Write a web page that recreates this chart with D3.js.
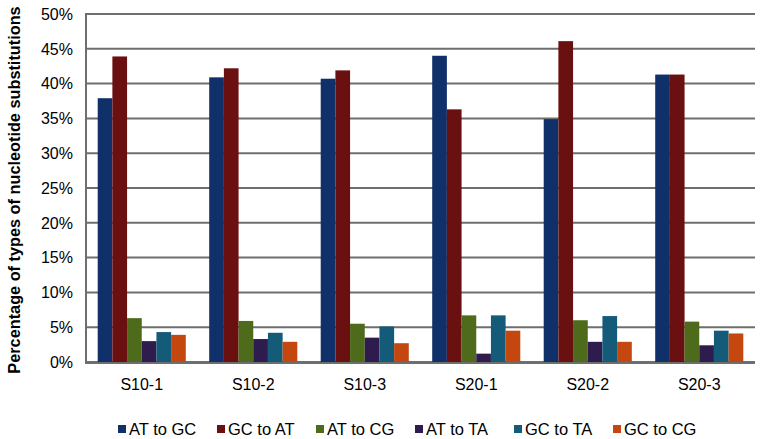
<!DOCTYPE html>
<html>
<head>
<meta charset="utf-8">
<script src="https://cdn.jsdelivr.net/npm/d3@7"></script>
<style>
  body { margin: 0; background: #fff; }
  text { font-family: "Liberation Sans", Arial, sans-serif; fill: #000; }
</style>
</head>
<body>
<div id="chart"></div>
<script>
var samples = ["S10-1", "S10-2", "S10-3", "S20-1", "S20-2", "S20-3"];
var series = ["AT to GC", "GC to AT", "AT to CG", "AT to TA", "GC to TA", "GC to CG"];
var colors = ["#10306a", "#6b1010", "#4e6a1b", "#2e1c4f", "#135b78", "#c3470f"];

// percent per sample, one array per series
var atToGC = [37.9, 40.9, 40.7, 44.0, 34.9, 41.3];
var gcToAT = [43.9, 42.2, 41.9, 36.3, 46.1, 41.3];
var atToCG = [6.3, 5.9, 5.5, 6.7, 6.0, 5.8];
var atToTA = [3.0, 3.3, 3.5, 1.2, 2.9, 2.4];
var gcToTA = [4.3, 4.2, 5.1, 6.7, 6.6, 4.5];
var gcToCG = [3.9, 2.9, 2.7, 4.5, 2.9, 4.1];
var yTicks = [0, 5, 10, 15, 20, 25, 30, 35, 40, 45, 50];

var values = [atToGC, gcToAT, atToCG, atToTA, gcToTA, gcToCG];

var width = 761, height = 439;
var margin = {top: 14, right: 6, bottom: 77, left: 86};

var svg = d3.select("#chart").append("svg")
  .attr("width", width)
  .attr("height", height);

var x0 = d3.scaleBand()
  .domain(samples)
  .range([margin.left, width - margin.right])
  .paddingInner(0.21)
  .paddingOuter(0.105);

var x1 = d3.scaleBand()
  .domain(series)
  .range([0, x0.bandwidth()]);

var y = d3.scaleLinear()
  .domain([0, 50])
  .range([height - margin.bottom, margin.top]);

// gridlines
svg.append("g")
  .selectAll("line")
  .data(yTicks)
  .enter()
  .append("line")
  .attr("x1", margin.left)
  .attr("x2", width - margin.right)
  .attr("y1", function(d) { return y(d) })
  .attr("y2", function(d) { return y(d) })
  .attr("stroke", "#6e6e6e")
  .attr("stroke-width", 2);

// left axis line
svg.append("line")
  .attr("x1", margin.left)
  .attr("x2", margin.left)
  .attr("y1", y(0) + 1)
  .attr("y2", y(50) - 1)
  .attr("stroke", "#6e6e6e")
  .attr("stroke-width", 2);

svg.append("g")
  .selectAll("text")
  .data(yTicks)
  .enter()
  .append("text")
  .attr("x", margin.left - 13)
  .attr("y", function(d) { return y(d) })
  .attr("dy", "0.36em")
  .attr("text-anchor", "end")
  .style("font-size", "16px")
  .text(function(d) { return d + "%" });

var groups = svg.append("g")
  .selectAll("g")
  .data(samples)
  .enter()
  .append("g")
  .attr("transform", function(d) { return "translate(" + x0(d) + ",0)" });

groups.selectAll("rect")
  .data(function(d, i) {
    return series.map(function(s, k) { return {series: s, k: k, value: values[k][i]} });
  })
  .enter()
  .append("rect")
  .attr("x", function(d) { return x1(d.series) })
  .attr("width", x1.bandwidth())
  .attr("y", function(d) { return y(d.value) })
  .attr("height", function(d) { return y(0) - y(d.value) })
  .attr("fill", function(d) { return colors[d.k] });

// redraw baseline over bars
svg.append("line")
  .attr("x1", margin.left - 1)
  .attr("x2", width - margin.right)
  .attr("y1", y(0) + 1)
  .attr("y2", y(0) + 1)
  .attr("stroke", "#6e6e6e")
  .attr("stroke-width", 2);

svg.append("g")
  .selectAll("text")
  .data(samples)
  .enter()
  .append("text")
  .attr("x", function(d) { return x0(d) + x0.bandwidth() / 2 })
  .attr("y", y(0) + 22)
  .attr("dy", "0.36em")
  .attr("text-anchor", "middle")
  .style("font-size", "16px")
  .text(function(d) { return d });

svg.append("text")
  .attr("transform", "translate(20," + ((y(0) + y(50)) / 2 + 2) + ") rotate(-90)")
  .attr("text-anchor", "middle")
  .style("font-size", "16.3px")
  .style("font-weight", "bold")
  .text("Percentage of types of nucleotide substitutions");

// legend
var legend = svg.append("g")
  .selectAll("g")
  .data(series)
  .enter()
  .append("g")
  .attr("transform", function(d, i) { return "translate(" + (118 + i * 99) + ",429)" });

legend.append("rect")
  .attr("x", 0)
  .attr("y", -4)
  .attr("width", 8)
  .attr("height", 8)
  .attr("fill", function(d, i) { return colors[i] });

legend.append("text")
  .attr("x", 11)
  .attr("dy", "0.36em")
  .style("font-size", "16.5px")
  .text(function(d) { return d });
</script>
</body>
</html>
